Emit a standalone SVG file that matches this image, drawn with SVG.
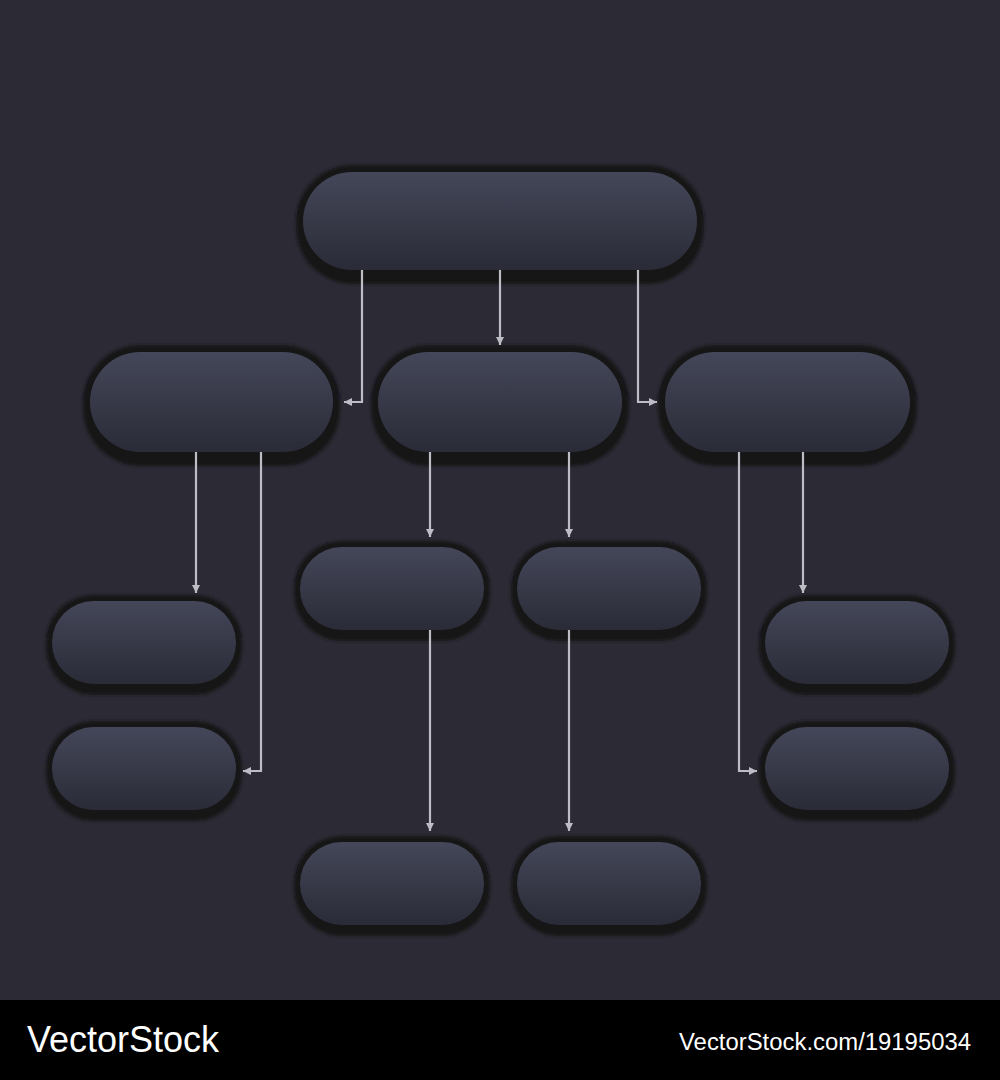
<svg xmlns="http://www.w3.org/2000/svg" width="1000" height="1080" viewBox="0 0 1000 1080">
<style>
.rim{fill:#121218}
.pill{fill:url(#g)}
.c{fill:none;stroke:#bdbdc5;stroke-width:2.2}
.wm{font-family:"Liberation Sans",Arial,sans-serif;fill:#ffffff}
</style>
<defs>
<linearGradient id="g" x1="0" y1="0" x2="0" y2="1">
<stop offset="0" stop-color="#444759"/>
<stop offset="1" stop-color="#2a2b37"/>
</linearGradient>
<filter id="b" x="-10%" y="-20%" width="120%" height="140%"><feGaussianBlur stdDeviation="1.5"/></filter>
<marker id="a" markerUnits="userSpaceOnUse" markerWidth="10" markerHeight="10" refX="8" refY="4" orient="auto">
<path d="M0,0 L8,4 L0,8 Z" fill="#bdbdc5"/>
</marker>
</defs>
<rect width="1000" height="1080" fill="#2c2b35"/>

<g id="n-top">
<g filter="url(#b)"><rect class="rim" x="296" y="165" width="408" height="112" rx="56"/><rect class="rim" x="296" y="172" width="408" height="112" rx="56"/></g>
<rect class="pill" x="303" y="172" width="394" height="98" rx="49"/>
</g>
<g id="n-l2-left">
<g filter="url(#b)"><rect class="rim" x="83" y="345" width="257" height="114" rx="57"/><rect class="rim" x="83" y="352" width="257" height="114" rx="57"/></g>
<rect class="pill" x="90" y="352" width="243" height="100" rx="50"/>
</g>
<g id="n-l2-center">
<g filter="url(#b)"><rect class="rim" x="371" y="345" width="258" height="114" rx="57"/><rect class="rim" x="371" y="352" width="258" height="114" rx="57"/></g>
<rect class="pill" x="378" y="352" width="244" height="100" rx="50"/>
</g>
<g id="n-l2-right">
<g filter="url(#b)"><rect class="rim" x="658" y="345" width="259" height="114" rx="57"/><rect class="rim" x="658" y="352" width="259" height="114" rx="57"/></g>
<rect class="pill" x="665" y="352" width="245" height="100" rx="50"/>
</g>

<g id="n-left-1">
<g filter="url(#b)"><rect class="rim" x="46" y="595" width="196" height="94" rx="47"/><rect class="rim" x="46" y="601" width="196" height="94" rx="47"/></g>
<rect class="pill" x="52" y="601" width="184" height="83" rx="41.5"/>
</g>
<g id="n-left-2">
<g filter="url(#b)"><rect class="rim" x="46" y="721" width="196" height="94" rx="47"/><rect class="rim" x="46" y="727" width="196" height="94" rx="47"/></g>
<rect class="pill" x="52" y="727" width="184" height="83" rx="41.5"/>
</g>
<g id="n-mid-1">
<g filter="url(#b)"><rect class="rim" x="294" y="541" width="196" height="94" rx="47"/><rect class="rim" x="294" y="547" width="196" height="94" rx="47"/></g>
<rect class="pill" x="300" y="547" width="184" height="83" rx="41.5"/>
</g>
<g id="n-mid-2">
<g filter="url(#b)"><rect class="rim" x="511" y="541" width="196" height="94" rx="47"/><rect class="rim" x="511" y="547" width="196" height="94" rx="47"/></g>
<rect class="pill" x="517" y="547" width="184" height="83" rx="41.5"/>
</g>
<g id="n-right-1">
<g filter="url(#b)"><rect class="rim" x="759" y="595" width="196" height="94" rx="47"/><rect class="rim" x="759" y="601" width="196" height="94" rx="47"/></g>
<rect class="pill" x="765" y="601" width="184" height="83" rx="41.5"/>
</g>
<g id="n-right-2">
<g filter="url(#b)"><rect class="rim" x="759" y="721" width="196" height="94" rx="47"/><rect class="rim" x="759" y="727" width="196" height="94" rx="47"/></g>
<rect class="pill" x="765" y="727" width="184" height="83" rx="41.5"/>
</g>
<g id="n-bottom-1">
<g filter="url(#b)"><rect class="rim" x="294" y="836" width="196" height="94" rx="47"/><rect class="rim" x="294" y="842" width="196" height="94" rx="47"/></g>
<rect class="pill" x="300" y="842" width="184" height="83" rx="41.5"/>
</g>
<g id="n-bottom-2">
<g filter="url(#b)"><rect class="rim" x="511" y="836" width="196" height="94" rx="47"/><rect class="rim" x="511" y="842" width="196" height="94" rx="47"/></g>
<rect class="pill" x="517" y="842" width="184" height="83" rx="41.5"/>
</g>

<g id="connectors">
<path class="c" d="M362,270 V402 H344" marker-end="url(#a)"/>
<path class="c" d="M500,270 V345" marker-end="url(#a)"/>
<path class="c" d="M638,270 V402 H657" marker-end="url(#a)"/>
<path class="c" d="M196,452 V593" marker-end="url(#a)"/>
<path class="c" d="M261,452 V771 H243" marker-end="url(#a)"/>
<path class="c" d="M430,452 V537" marker-end="url(#a)"/>
<path class="c" d="M569,452 V537" marker-end="url(#a)"/>
<path class="c" d="M430,630 V831" marker-end="url(#a)"/>
<path class="c" d="M569,630 V831" marker-end="url(#a)"/>
<path class="c" d="M803,452 V593" marker-end="url(#a)"/>
<path class="c" d="M739,452 V771 H757" marker-end="url(#a)"/>
</g>

<g id="watermark">
<rect x="0" y="1000" width="1000" height="80" fill="#000000"/>
<text class="wm" x="27" y="1052" font-size="36" textLength="192" lengthAdjust="spacingAndGlyphs">VectorStock</text>
<text class="wm" x="679" y="1050" font-size="23" textLength="292" lengthAdjust="spacingAndGlyphs">VectorStock.com/19195034</text>
</g>
</svg>
